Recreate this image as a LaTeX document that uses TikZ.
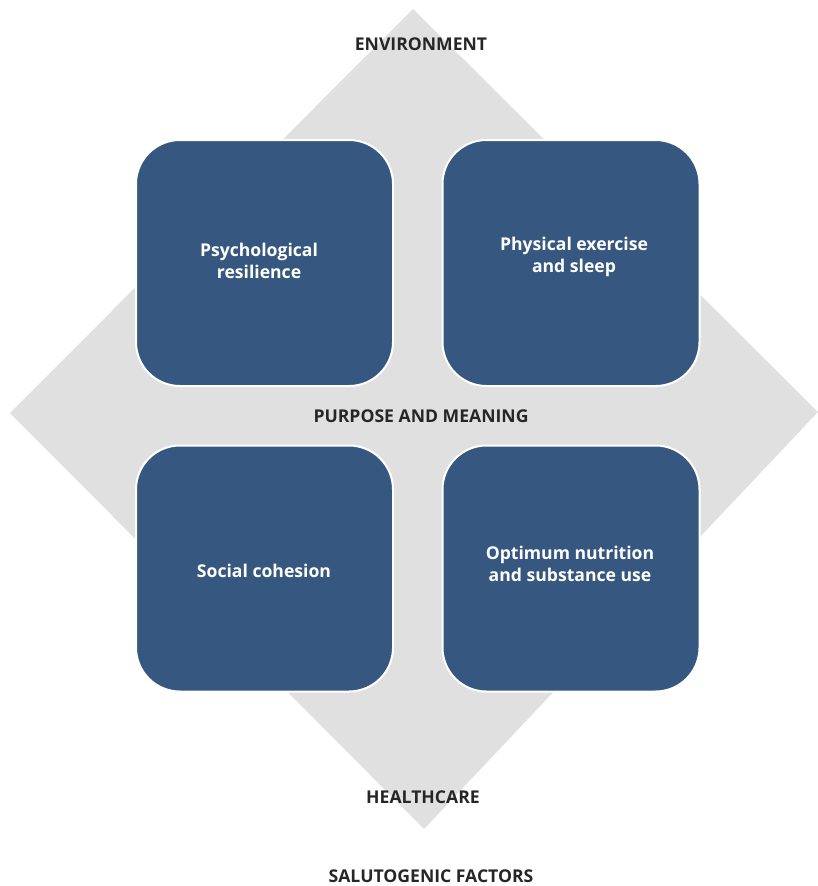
\documentclass[tikz,border=0pt]{standalone}
\usepackage{fontspec}
\setmainfont{Open Sans}
\definecolor{boxblue}{HTML}{36577F}
\definecolor{diamondgray}{HTML}{E0E0E0}
\definecolor{labeltext}{HTML}{262626}
\begin{document}
\begin{tikzpicture}[x=1pt,y=-1pt,
  tile/.style={draw=white, line width=2pt, fill=boxblue, rounded corners=44pt,
    minimum width=257pt, minimum height=246pt, inner sep=0pt},
  tiletext/.style={text=white, font=\bfseries\fontsize{17.6}{22}\selectfont, align=center},
  caption/.style={text=labeltext, font=\bfseries\fontsize{17.6}{20}\selectfont}]
\useasboundingbox (0,0) rectangle (818,886);
\fill[diamondgray] (413,9) -- (818,412) -- (424,829) -- (10,413) -- cycle;
\node[tile] (tl) at (264.5,263) {};
\node[tile] (tr) at (571,263) {};
\node[tile] (bl) at (264.5,568.5) {};
\node[tile] (br) at (571,568.5) {};
\node[tiletext] (tlt) at (259,261) {Psychological\\resilience};
\node[tiletext] (trt) at (574,257) {Physical exercise\\and sleep};
\node[tiletext] (blt) at (264,571) {Social cohesion};
\node[tiletext] (brt) at (570,564) {Optimum nutrition\\and substance use};
\node[caption] (env) at (421,44) {ENVIRONMENT};
\node[caption] (pm) at (421,416) {PURPOSE AND MEANING};
\node[caption] (hc) at (423,797) {HEALTHCARE};
\node[caption] (sf) at (431,876) {SALUTOGENIC FACTORS};
\end{tikzpicture}
\end{document}
